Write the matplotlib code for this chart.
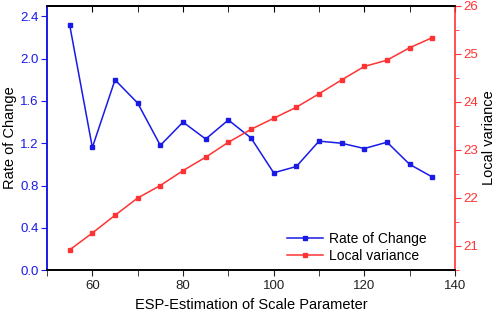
import matplotlib
matplotlib.use("Agg")
import matplotlib.pyplot as plt
from matplotlib.ticker import MultipleLocator

plt.rcParams['font.family'] = ['Liberation Sans', 'DejaVu Sans']

scale = [55, 60, 65, 70, 75, 80, 85, 90, 95, 100, 105, 110, 115, 120, 125, 130, 135]
rate_of_change = [2.32, 1.16, 1.80, 1.58, 1.18, 1.40, 1.24, 1.42, 1.25, 0.92, 0.98,
                  1.22, 1.20, 1.15, 1.21, 1.00, 0.88]
local_variance = [20.92, 21.27, 21.64, 22.00, 22.26, 22.57, 22.85, 23.16, 23.43, 23.66,
                  23.89, 24.17, 24.46, 24.74, 24.87, 25.13, 25.34]

blue = '#1a1ae6'
red = '#ff3333'

fig = plt.figure(figsize=(4.98, 3.12), dpi=100)
ax = fig.add_axes([0.0944, 0.1346, 0.8193, 0.8464])
ax2 = ax.twinx()

l1, = ax.plot(scale, rate_of_change, color=blue, marker='s', ms=3, lw=1.1,
              label='Rate of Change')
l2, = ax2.plot(scale, local_variance, color=red, marker='s', ms=3, lw=1.1,
               label='Local variance')

ax.set_xlim(50, 140)
ax.set_ylim(0, 2.5)
ax2.set_ylim(20.5, 26)

ax.xaxis.set_major_locator(MultipleLocator(20))
ax.xaxis.set_minor_locator(MultipleLocator(10))
ax.yaxis.set_major_locator(MultipleLocator(0.4))
ax.yaxis.set_minor_locator(MultipleLocator(0.2))
ax2.yaxis.set_major_locator(MultipleLocator(1))
ax2.yaxis.set_minor_locator(MultipleLocator(0.5))

ax.tick_params(axis='x', which='both', direction='out', labelsize=9.5,
               colors='#222222', length=4)
ax.tick_params(axis='y', which='both', colors=blue, labelsize=9.5, pad=2)
ax.tick_params(axis='y', which='major', length=4)
ax.tick_params(axis='y', which='minor', length=0)
ax2.tick_params(axis='y', which='both', colors=red, labelsize=9.5, pad=2)
ax2.tick_params(axis='y', which='major', length=4)
ax2.tick_params(axis='y', which='minor', length=3)

# inward ticks along the top edge
top = ax.secondary_xaxis('top')
top.xaxis.set_major_locator(MultipleLocator(20))
top.xaxis.set_minor_locator(MultipleLocator(10))
top.tick_params(axis='x', which='both', direction='in', length=4, labeltop=False)
top.spines['top'].set_linewidth(1.2)

ax.spines['left'].set_color(blue)
ax2.spines['left'].set_color(blue)
ax2.spines['right'].set_color(red)
ax.spines['right'].set_visible(False)
for a in (ax, ax2):
    for s in a.spines.values():
        s.set_linewidth(1.2)

ax.set_xlabel('ESP-Estimation of Scale Parameter', fontsize=10.5, labelpad=4)
ax.set_ylabel('Rate of Change', fontsize=10.5, labelpad=2)
ax2.set_ylabel('Local variance', fontsize=10.5, labelpad=3)

ax.legend(handles=[l1, l2], loc='lower right', bbox_to_anchor=(0.96, -0.02),
          frameon=False, fontsize=10, handlelength=2.6, labelspacing=0.2,
          handletextpad=0.4)

fig.savefig('out.png', dpi=100)
